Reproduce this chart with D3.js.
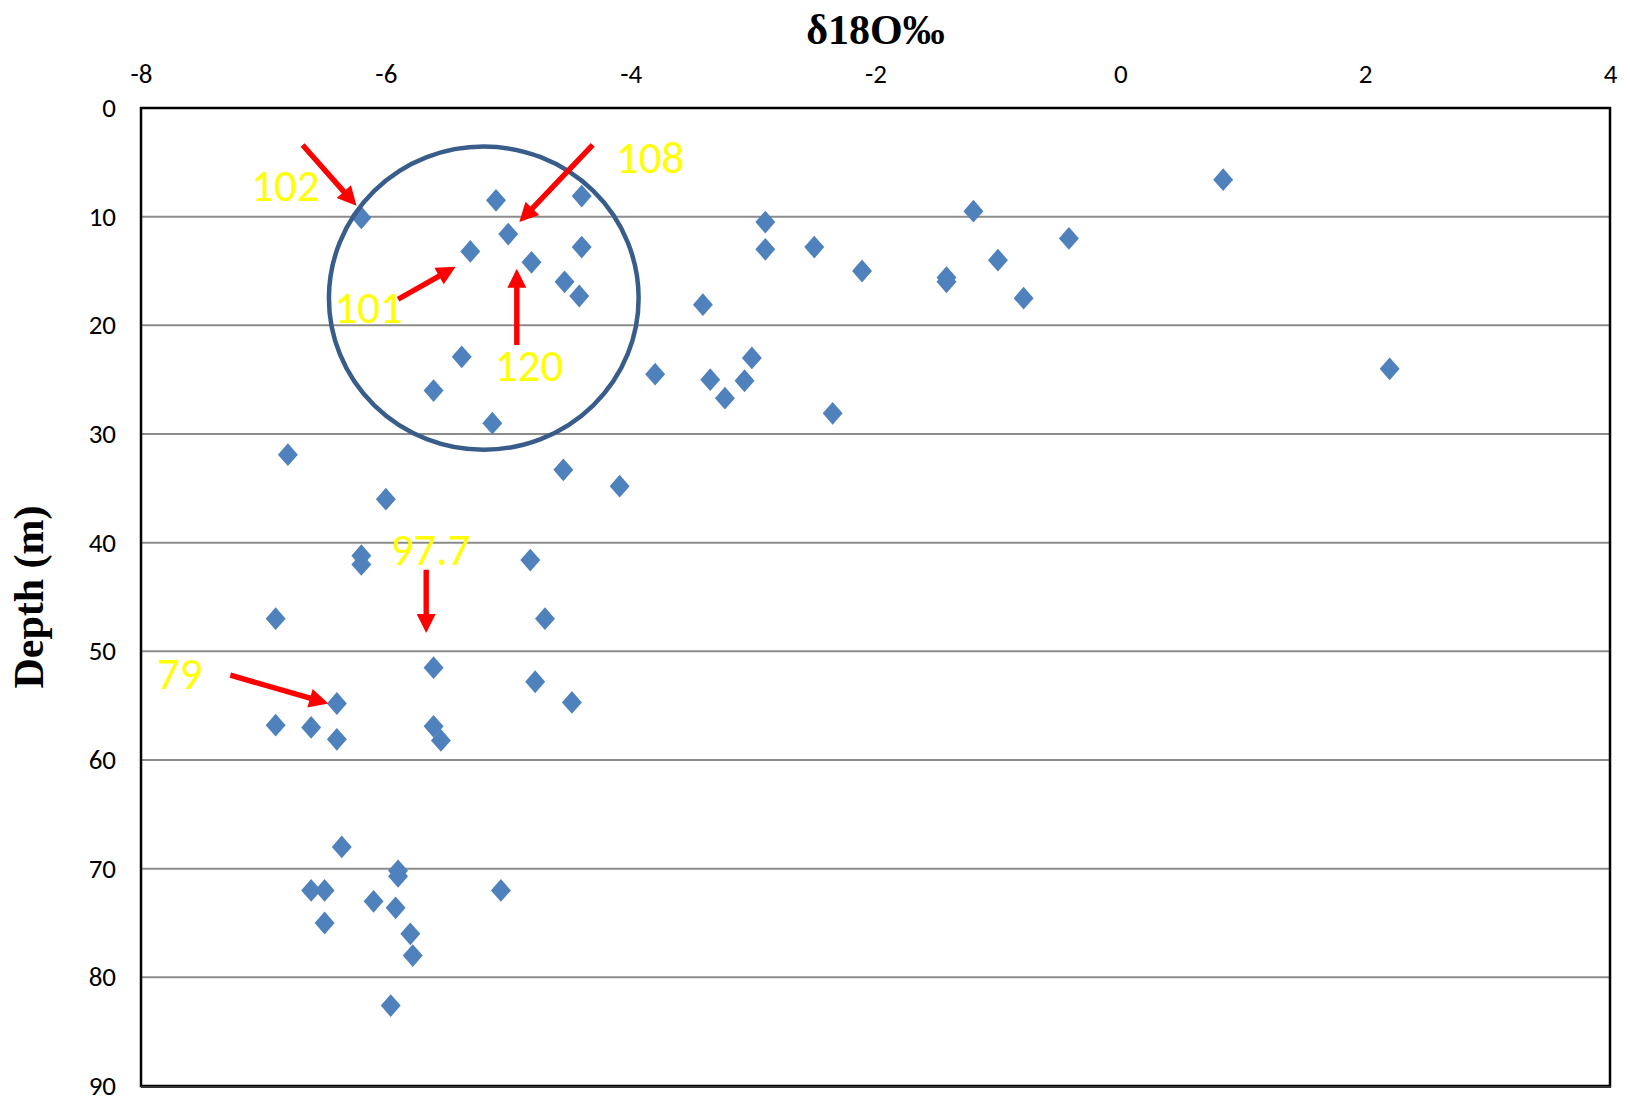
<!DOCTYPE html>
<html>
<head>
<meta charset="utf-8" />
<title></title>
<style>
html, body {
    padding: 0px;
    margin: 0px;
    background: #fff;
}
.tick line {
    display: none;
}
.domain {
    display: none;
}
.tick text {
    font-family: Carlito, "Liberation Sans Narrow", "Liberation Sans", sans-serif;
    font-size: 27px;
    fill: #000;
}
</style>
</head>
<body>
<svg id="chart" width="1630" height="1097"></svg>

<script src="https://cdnjs.cloudflare.com/ajax/libs/d3/7.8.5/d3.min.js"></script>
<script>
!(function(){
    "use strict"

    // delta 18O (per mil) and depth (m) of each sample
    var d18O = [
        0.84, -1.20, -0.42, -1.00, -1.42, -1.42, -0.79, -2.11, -2.50, -2.90,
        -2.90, -3.41, 2.20, -3.01, -3.80, -3.35, -3.07, -3.23, -2.35,
        -6.20, -5.10, -4.40, -5.00, -5.31, -4.40, -4.81, -4.54, -4.42, -5.38,
        -5.61, -5.13,
        -6.80, -4.55, -4.09, -6.00, -6.20, -6.20, -4.82, -6.90, -4.70, -5.61,
        -4.78, -4.48, -6.40, -6.90, -6.61, -6.40, -5.61, -5.55,
        -6.36, -5.90, -5.90, -6.61, -6.50, -5.06, -6.10, -5.92, -6.50, -5.80,
        -5.78, -5.96
    ];
    var depth = [
        6.6, 9.5, 12.0, 14.0, 15.6, 16.0, 17.5, 15.0, 12.8, 10.5,
        13.0, 18.1, 24.0, 23.0, 24.5, 25.0, 25.1, 26.7, 28.1,
        10.1, 8.5, 8.1, 11.6, 13.2, 12.8, 14.2, 16.0, 17.3, 22.9,
        26.0, 29.0,
        31.9, 33.3, 34.8, 36.0, 41.2, 42.0, 41.6, 47.0, 47.0, 51.5,
        52.8, 54.7, 54.8, 56.8, 57.0, 58.1, 56.9, 58.2,
        68.0, 70.2, 70.7, 72.0, 72.0, 72.0, 73.0, 73.6, 75.0, 76.0,
        78.0, 82.6
    ];

    var xTicks = [-8, -6, -4, -2, 0, 2, 4];
    var yTicks = [0, 10, 20, 30, 40, 50, 60, 70, 80, 90];

    // annotation labels and arrows, in data units
    var noteText = ["102", "108", "101", "120", "97.7", "79"];
    var noteX = [-7.10, -4.12, -6.42, -5.11, -5.96, -7.87];
    var noteY = [8.6, 6.0, 19.8, 25.1, 42.1, 53.5];
    var arrowFrom = [[-6.68, 3.4], [-4.31, 3.4], [-5.90, 17.6], [-4.93, 21.8], [-5.67, 42.5], [-7.27, 52.2]];
    var arrowTo = [[-6.24, 9.0], [-4.91, 10.5], [-5.43, 14.6], [-4.93, 14.8], [-5.67, 48.3], [-6.47, 54.8]];

    // circled group
    var ring = {cx: -5.20, cy: 17.5, rx: 1.265, ry: 13.95};

    var svg = d3.select("#chart");
    var left = 141, right = 1610, top = 108, bottom = 1086;

    var x = d3.scaleLinear().domain([-8, 4]).range([left, right]);
    var y = d3.scaleLinear().domain([0, 90]).range([top, bottom]);
    var fmt = function(d){ return String(d) };

    // gridlines
    svg.append("g")
        .selectAll("line")
        .data(yTicks.filter(function(d){ return d > 0 && d < 90 }))
        .enter()
        .append("line")
        .attr("x1", left).attr("x2", right)
        .attr("y1", function(d){ return y(d) })
        .attr("y2", function(d){ return y(d) })
        .attr("stroke", "#8c8c8c")
        .attr("stroke-width", 2);

    // frame
    svg.append("rect")
        .attr("x", left).attr("y", top)
        .attr("width", right - left).attr("height", bottom - top)
        .attr("fill", "none")
        .attr("stroke", "#000")
        .attr("stroke-width", 2.5);
    svg.append("line")
        .attr("x1", left).attr("x2", right + 1)
        .attr("y1", bottom + 1).attr("y2", bottom + 1)
        .attr("stroke", "#333").attr("stroke-width", 2);

    // axes
    svg.append("g")
        .attr("transform", "translate(0," + (top - 25) + ")")
        .call(d3.axisTop(x).tickValues(xTicks).tickFormat(fmt).tickSize(0).tickPadding(0));

    svg.append("g")
        .attr("transform", "translate(" + (left - 25) + ",0)")
        .call(d3.axisLeft(y).tickValues(yTicks).tickFormat(fmt).tickSize(0).tickPadding(0));

    // titles
    svg.append("text")
        .attr("x", (left + right) / 2)
        .attr("y", 44)
        .attr("text-anchor", "middle")
        .style("font-family", "'Liberation Serif', 'Times New Roman', serif")
        .style("font-weight", "bold")
        .style("font-size", "42px")
        .text("δ18O‰");

    svg.append("text")
        .attr("transform", "translate(43," + ((top + bottom) / 2) + ") rotate(-90)")
        .attr("text-anchor", "middle")
        .style("font-family", "'Liberation Serif', 'Times New Roman', serif")
        .style("font-weight", "bold")
        .style("font-size", "42px")
        .text("Depth (m)");

    // points
    var diamond = d3.symbol().type(d3.symbolDiamond2).size(300);
    svg.append("g")
        .selectAll("path")
        .data(d18O.map(function(v, i){ return [v, depth[i]] }))
        .enter()
        .append("path")
        .attr("d", diamond)
        .attr("transform", function(d){ return "translate(" + x(d[0]) + "," + y(d[1]) + ") scale(0.92,1.05)" })
        .attr("fill", "#4f81bd");

    // circle around the upper group
    svg.append("ellipse")
        .attr("cx", x(ring.cx))
        .attr("cy", y(ring.cy))
        .attr("rx", x(ring.cx + ring.rx) - x(ring.cx))
        .attr("ry", y(ring.cy + ring.ry) - y(ring.cy))
        .attr("fill", "none")
        .attr("stroke", "#385d8a")
        .attr("stroke-width", 4.5);

    // arrows
    function arrowPath(a, b) {
        var x1 = x(a[0]), y1 = y(a[1]), x2 = x(b[0]), y2 = y(b[1]);
        var dx = x2 - x1, dy = y2 - y1, len = Math.sqrt(dx * dx + dy * dy);
        var ux = dx / len, uy = dy / len, nx = -uy, ny = ux;
        var hl = 19, hw = 9.5, sw = 2.7;
        var bx = x2 - ux * hl, by = y2 - uy * hl;
        var p = [
            [x1 + nx * sw, y1 + ny * sw],
            [bx + nx * sw, by + ny * sw],
            [bx + nx * hw, by + ny * hw],
            [x2, y2],
            [bx - nx * hw, by - ny * hw],
            [bx - nx * sw, by - ny * sw],
            [x1 - nx * sw, y1 - ny * sw]
        ];
        return "M" + p.map(function(q){ return q[0].toFixed(1) + "," + q[1].toFixed(1) }).join("L") + "Z";
    }

    svg.append("g")
        .selectAll("path")
        .data(arrowFrom.map(function(a, i){ return [a, arrowTo[i]] }))
        .enter()
        .append("path")
        .attr("d", function(d){ return arrowPath(d[0], d[1]) })
        .attr("fill", "#ff0000");

    // labels
    svg.append("g")
        .selectAll("text")
        .data(noteText)
        .enter()
        .append("text")
        .attr("x", function(d, i){ return x(noteX[i]) })
        .attr("y", function(d, i){ return y(noteY[i]) })
        .style("font-family", "Carlito, 'Liberation Sans', sans-serif")
        .style("font-size", "45px")
        .attr("fill", "#ffff00")
        .text(function(d){ return d });

}());
</script>
</body>
</html>
